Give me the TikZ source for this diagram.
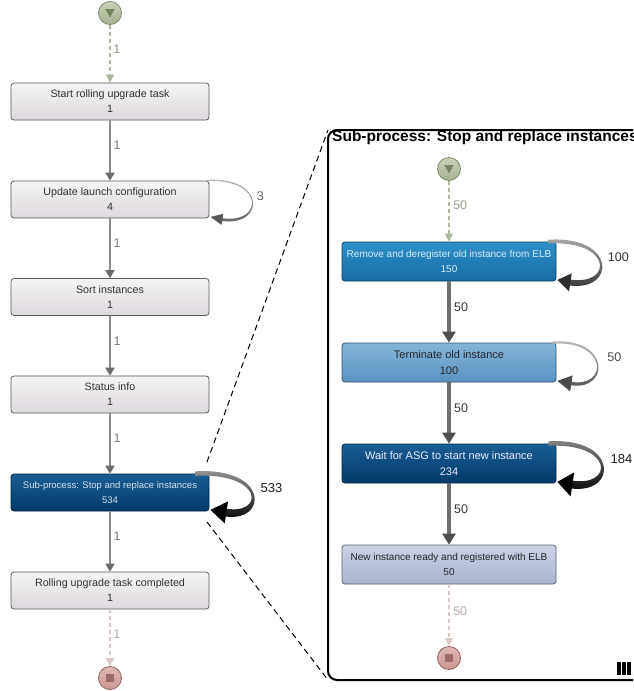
\documentclass[tikz,border=0pt]{standalone}
\usepackage{fontspec}
\setmainfont{Liberation Sans}
\usetikzlibrary{arrows.meta,calc}

\definecolor{greyA}{HTML}{F6F4F6}
\definecolor{greyB}{HTML}{DCD8DD}
\definecolor{boxline}{HTML}{5A5A5A}
\definecolor{boxtext}{HTML}{333333}
\definecolor{navyA}{HTML}{1A5E94}
\definecolor{navyB}{HTML}{00396A}
\definecolor{navyText}{HTML}{D4E3F1}
\definecolor{cyanA}{HTML}{2E90C8}
\definecolor{cyanB}{HTML}{176BA4}
\definecolor{cyanText}{HTML}{D8ECF8}
\definecolor{skyA}{HTML}{82B5DA}
\definecolor{skyB}{HTML}{5A93C2}
\definecolor{paleA}{HTML}{CBD3E5}
\definecolor{paleB}{HTML}{A9B4CF}
\definecolor{startA}{HTML}{C8D1B6}
\definecolor{startB}{HTML}{A5B18F}
\definecolor{startLine}{HTML}{7F8C6B}
\definecolor{startMark}{HTML}{75845F}
\definecolor{startFlow}{HTML}{AAB89B}
\definecolor{endA}{HTML}{E0B8B4}
\definecolor{endB}{HTML}{C99893}
\definecolor{endLine}{HTML}{8F5F5B}
\definecolor{endMark}{HTML}{9C6C68}
\definecolor{endFlow}{HTML}{DAC8C5}
\definecolor{flowGrey}{HTML}{8C8C8C}
\definecolor{flowHead}{HTML}{6A6A6A}
\definecolor{subFlow}{HTML}{6E6E6E}
\definecolor{subHead}{HTML}{4E4E4E}
\definecolor{labelGrey}{HTML}{7B7B7B}

% self loop drawn as a tapering shaded band with a filled head
% #1 node, #2 reach, #3 start width, #4 end width, #5 head length,
% #6 head half width, #7 top colour, #8 bottom colour, #9 start inset
\newcommand{\rloop}[9]{%
  \shade[top color=#7,bottom color=#8] let \p1=(#1.north east), \p2=(#1.south east) in
    ({\x1-#9pt},{\y1+0.5*#3pt})
    .. controls ({\x1+1.33*#2pt+0.1*#3pt+0.2*#4pt},{\y1+4pt+0.33*#3pt+0.17*#4pt})
    and ({\x1+1.33*#2pt+0.1*#3pt+0.2*#4pt},{\y2-8pt-0.17*#3pt-0.33*#4pt})
    .. ({\x1+#5pt-1.5pt},{\y2-1pt-0.5*#4pt})
    -- ({\x1+#5pt-1.5pt},{\y2-1pt+0.5*#4pt})
    .. controls ({\x1+1.33*#2pt-0.1*#3pt-0.2*#4pt},{\y2-8pt+0.17*#3pt+0.33*#4pt})
    and ({\x1+1.33*#2pt-0.1*#3pt-0.2*#4pt},{\y1+4pt-0.33*#3pt-0.17*#4pt})
    .. ({\x1-#9pt},{\y1-0.5*#3pt}) -- cycle;
  \fill[#8] let \p1=(#1.north east), \p2=(#1.south east) in
    ({\x1+1pt},{\y2+1.5pt})
    -- ({\x1+#5pt+0.15*#6pt},{\y2-1pt+#6pt})
    -- ({\x1+#5pt-0.15*#6pt},{\y2-1pt-#6pt}) -- cycle;
}

\begin{document}
\begin{tikzpicture}[x=1pt,y=-1pt,
  box/.style={rectangle,rounded corners=3pt,draw=boxline,line width=0.8pt,
    minimum width=198pt,minimum height=37pt,inner sep=0pt,align=center,
    font=\fontsize{10.7}{15}\selectfont,text=boxtext},
  greybox/.style={box,top color=greyA,bottom color=greyB},
  subbox/.style={box,minimum width=214pt,minimum height=39pt},
  startev/.style={circle,minimum size=23pt,inner sep=0pt,draw=startLine,
    line width=0.8pt,top color=startA,bottom color=startB},
  endev/.style={circle,minimum size=23pt,inner sep=0pt,draw=endLine,
    line width=0.8pt,top color=endA,bottom color=endB},
  flowL/.style={draw=flowGrey,line width=2pt,
    -{Triangle[length=8pt,width=9pt,color=flowHead]}},
  flowS/.style={draw=subFlow,line width=3.3pt,
    -{Triangle[length=11pt,width=13pt,color=subHead]}},
  startflow/.style={draw=startFlow,line width=1.5pt,dash pattern=on 4pt off 3pt,
    -{Triangle[length=8pt,width=8pt,color=startFlow]}},
  endflow/.style={draw=endFlow,line width=1.5pt,dash pattern=on 4pt off 3pt,
    -{Triangle[length=8pt,width=8pt,color=endFlow]}},
  lbl/.style={anchor=west,inner sep=2.5pt,font=\fontsize{12.5}{14}\selectfont,text=labelGrey},
  sublbl/.style={anchor=west,inner sep=3.5pt,font=\fontsize{12.5}{14}\selectfont,text=black!78},
  looplbl/.style={font=\fontsize{12.6}{14}\selectfont,text=black!80},
  zoomline/.style={draw=black,line width=1pt,dash pattern=on 6pt off 4pt}
]
\useasboundingbox (0,0) rectangle (633,691);
\clip (0,0) rectangle (633,691);
\fill[white] (0,0) rectangle (633,691);

% ---------- top level process ----------
\node[startev] (st) at (110,13) {};
\fill[startMark] ($(st)+(-4.6,-3.8)$) -- ($(st)+(4.6,-3.8)$) -- ($(st)+(0,4.4)$) -- cycle;

\node[greybox] (n1) at (110,101.5) {Start rolling upgrade task\\1};
\node[greybox] (n2) at (110,199.5) {Update launch configuration\\4};
\node[greybox] (n3) at (110,297) {Sort instances\\1};
\node[greybox] (n4) at (110,394.5) {Status info\\1};
\node[box,top color=navyA,bottom color=navyB,draw=navyB!70!black,text=navyText,
      font=\fontsize{9.5}{15}\selectfont] (n5) at (110,492.5)
      {Sub-process: Stop and replace instances\\534};
\node[greybox] (n6) at (110,590.5) {Rolling upgrade task completed\\1};

\node[endev] (en) at (110,678) {};
\fill[endMark] ($(en)+(-3.6,-3.6)$) rectangle ($(en)+(3.6,3.6)$);

\draw[startflow] (st) -- node[lbl,pos=0.42,text=startFlow!85!black]{1} (n1);
\draw[flowL] (n1) -- node[lbl,pos=0.42]{1} (n2);
\draw[flowL] (n2) -- node[lbl,pos=0.42]{1} (n3);
\draw[flowL] (n3) -- node[lbl,pos=0.42]{1} (n4);
\draw[flowL] (n4) -- node[lbl,pos=0.42]{1} (n5);
\draw[flowL] (n5) -- node[lbl,pos=0.42]{1} (n6);
\draw[endflow] (n6) -- node[lbl,pos=0.43,text=endFlow!85!black]{1} (en);

\rloop{n2}{42}{1.4}{2.8}{13}{5.5}{black!25}{black!65}{3}
\node[looplbl,text=black!60] at ($(n2.east)+(51,-3.5)$) {3};

\rloop{n5}{43}{4.5}{8}{17}{11}{black!38}{black}{14}
\node[looplbl,font=\fontsize{13}{14}\selectfont,text=black!88] at ($(n5.east)+(62,-4.5)$) {533};

% ---------- expanded sub-process ----------
\coordinate (fTL) at (328,130);
\coordinate (fBL) at (328,680);
\coordinate (zTop) at (207,462);
\coordinate (zBot) at (207,522);
\draw[zoomline] (zTop) -- (fTL);
\draw[zoomline] (zBot) -- (fBL);

\draw[line width=2pt,rounded corners=9pt] (fTL) rectangle (662,680);
\node[anchor=base west,inner sep=0pt,font=\bfseries\fontsize{15.5}{18}\selectfont]
  (ttl) at (332,141.7) {Sub-process: Stop and replace instances};

\node[startev] (sst) at (449,169) {};
\fill[startMark] ($(sst)+(-4.6,-3.8)$) -- ($(sst)+(4.6,-3.8)$) -- ($(sst)+(0,4.4)$) -- cycle;

\node[subbox,top color=cyanA,bottom color=cyanB,draw=cyanB!60!black,text=cyanText,
      font=\fontsize{10}{15}\selectfont] (sA) at (449,261.5)
      {Remove and deregister old instance from ELB\\150};
\node[subbox,top color=skyA,bottom color=skyB,draw=skyB!55!black,text=black!85,
      font=\fontsize{11}{15.5}\selectfont] (sB) at (449,362.5)
      {Terminate old instance\\100};
\node[subbox,top color=navyA,bottom color=navyB,draw=navyB!70!black,text=white!92!blue,
      font=\fontsize{11}{15.5}\selectfont] (sC) at (449,463.5)
      {Wait for ASG to start new instance\\234};
\node[subbox,top color=paleA,bottom color=paleB,draw=paleB!55!black,text=black!85,
      font=\fontsize{10}{15}\selectfont] (sD) at (449,564.5)
      {New instance ready and registered with ELB\\50};

\node[endev] (sen) at (449,658) {};
\fill[endMark] ($(sen)+(-3.6,-3.6)$) rectangle ($(sen)+(3.6,3.6)$);

\draw[startflow] (sst) -- node[sublbl,pos=0.4,text=startFlow!90!black]{50} (sA);
\draw[flowS] (sA) -- node[sublbl,pos=0.42]{50} (sB);
\draw[flowS] (sB) -- node[sublbl,pos=0.42]{50} (sC);
\draw[flowS] (sC) -- node[sublbl,pos=0.42]{50} (sD);
\draw[endflow] (sD) -- node[sublbl,pos=0.43,text=endFlow!85!black]{50} (sen);

\rloop{sA}{44}{3.8}{6}{14}{9}{black!32}{black!82}{8}
\node[looplbl] at ($(sA.east)+(62,-4.5)$) {100};
\rloop{sB}{40}{2.2}{3.5}{15}{8}{black!25}{black!70}{4}
\node[looplbl,text=black!70] at ($(sB.east)+(58,-5)$) {50};
\rloop{sC}{45}{4.5}{8}{16}{12}{black!45}{black}{8}
\node[looplbl,font=\fontsize{13}{14}\selectfont,text=black!88] at ($(sC.east)+(65,-4.5)$) {184};

% parallel multi-instance marker
\foreach \bx in {617.4,622.4,627.4}
  \fill (\bx,662) rectangle ++(3.4,13);
\end{tikzpicture}
\end{document}
